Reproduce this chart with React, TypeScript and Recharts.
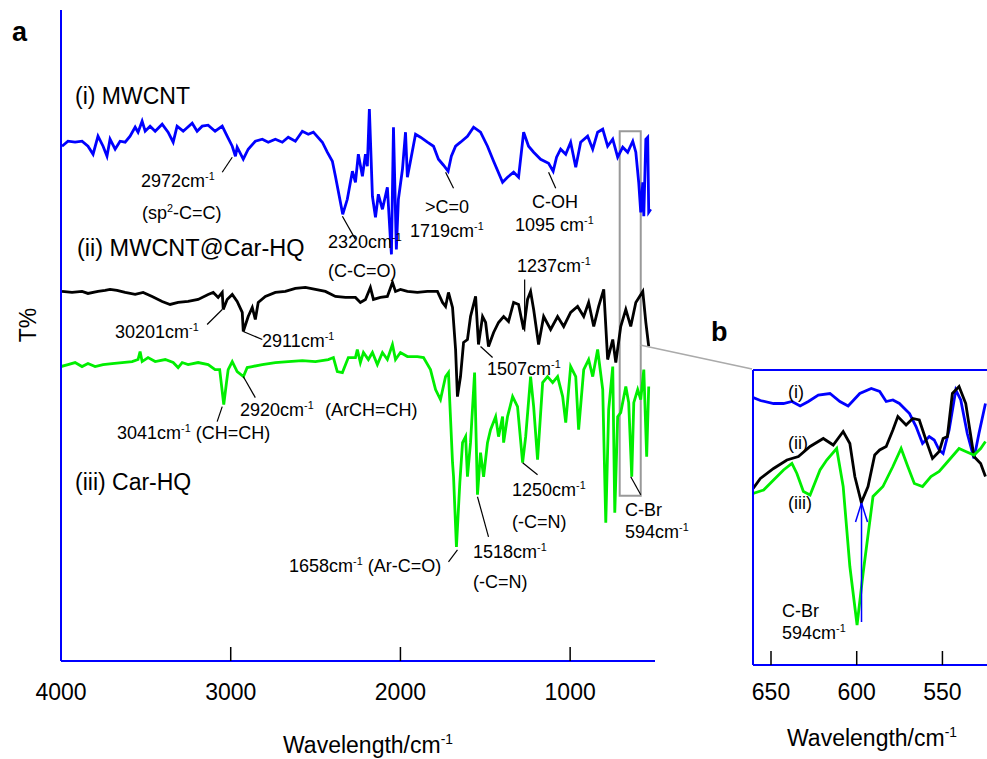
import React from "react";
import {
  LineChart,
  Line,
  XAxis,
  YAxis,
  ReferenceLine,
  ReferenceArea,
} from "recharts";

const FONT = '"Liberation Sans", Arial, Helvetica, sans-serif';

// ---- panel a: FTIR spectra (wavenumber in cm-1, offset transmittance) ----
const mwcntWave = [
  3994, 3959, 3917, 3876, 3841, 3811, 3782, 3752, 3729, 3711,
  3681, 3652, 3622, 3593, 3563, 3546, 3522, 3504, 3475, 3445,
  3404, 3369, 3339, 3316, 3280, 3227, 3198, 3168, 3133, 3092,
  3050, 3021, 2991, 2972, 2962, 2926, 2897, 2855, 2814, 2779,
  2737, 2696, 2661, 2619, 2578, 2543, 2513, 2460, 2431, 2401,
  2383, 2340, 2313, 2283, 2265, 2248, 2224, 2206, 2195, 2183,
  2165, 2147, 2130, 2106, 2077, 2059, 2053, 2041, 2024, 2012,
  1988, 1970, 1959, 1941, 1911, 1882, 1841, 1805, 1776, 1746,
  1719, 1700, 1675, 1646, 1605, 1569, 1528, 1487, 1451, 1398,
  1369, 1333, 1304, 1274, 1245, 1215, 1174, 1127, 1100, 1080,
  1056, 1026, 997, 967, 938, 897, 867, 838, 808, 779,
  749, 720, 690, 661, 631, 613, 596, 584, 572, 566,
  554, 543, 537, 525,
];
const mwcntT = [
  102.8, 103.8, 103.6, 103.8, 102.8, 101.2, 104.8, 102.8, 100.8, 104.2,
  102.2, 103.8, 103.6, 104.8, 106.6, 105.6, 107.8, 105.8, 106.8, 105.8,
  107.2, 105.6, 103.6, 106.8, 105.8, 107.4, 105.8, 106.8, 107, 105.8,
  106.8, 104.8, 102.8, 100.8, 102.6, 100.2, 102.2, 103.8, 104.2, 103.6,
  104.2, 103.6, 104.6, 103.8, 105.8, 105.2, 105.6, 103.6, 101.6, 99.8,
  96.8, 89.2, 92.2, 97.8, 95.6, 101.2, 96.8, 101.2, 98.8, 110.2,
  92.8, 88.6, 93.2, 90.2, 94.6, 84.2, 81.2, 106.6, 82.2, 92.2,
  98.2, 105.6, 96.6, 99.8, 105.2, 104.6, 103.6, 102.8, 100.2, 99,
  97.8, 100.8, 102.8, 103.6, 104.8, 106.6, 105.6, 102.8, 99.8, 95.6,
  96.6, 97.6, 96.6, 105.6, 102.8, 101.6, 100.2, 99.4, 97.8, 100.6,
  102.2, 101.2, 103.6, 98.6, 103.6, 104.8, 102.2, 105.6, 106.2, 102.8,
  104.2, 100.6, 102.6, 101.6, 103.8, 101.6, 95.6, 89.6, 95.6, 88.8,
  104.2, 104.6, 89.6, 90.2,
];

const hybridWave = [
  3994, 3935, 3876, 3841, 3782, 3740, 3711, 3670, 3622, 3563,
  3516, 3463, 3404, 3357, 3310, 3251, 3192, 3133, 3103, 3074,
  3050, 3044, 3021, 2991, 2962, 2932, 2926, 2897, 2873, 2855,
  2838, 2796, 2737, 2678, 2619, 2560, 2501, 2442, 2383, 2324,
  2265, 2236, 2206, 2177, 2159, 2118, 2077, 2047, 2029, 2000,
  1959, 1900, 1841, 1782, 1752, 1734, 1717, 1693, 1675, 1664,
  1646, 1628, 1605, 1587, 1557, 1540, 1516, 1498, 1481, 1451,
  1422, 1392, 1363, 1333, 1304, 1274, 1251, 1233, 1215, 1186,
  1156, 1115, 1074, 1038, 997, 956, 920, 891, 861, 832,
  802, 779, 749, 731, 702, 672, 643, 613, 572, 554,
  537,
];
const hybridT = [
  73.8, 73.6, 73.8, 73.4, 73.8, 74, 74.2, 74, 73.6, 73.2,
  73.6, 72.8, 71.8, 71.2, 71.6, 71.8, 72.2, 73.2, 73.6, 72.6,
  73.6, 70.2, 72.2, 73.2, 71.8, 69.6, 65.8, 68.8, 70.6, 68.2,
  71.6, 72.8, 73.6, 73.8, 74.4, 74.6, 74.2, 73.8, 72.8, 72.6,
  72.6, 71.6, 72.2, 74.6, 72.2, 72.6, 72.8, 75.6, 73.8, 74.2,
  73.8, 73.6, 73.8, 73.8, 71.6, 70.8, 73.6, 70.6, 62.2, 52.8,
  56.8, 63.6, 64.2, 68.8, 72.8, 63.2, 68.8, 67.6, 62.8, 65.6,
  67.6, 68.8, 67.8, 71.6, 71.2, 66.2, 72.2, 73.8, 70.2, 63.2,
  68.8, 66.2, 68.8, 66.8, 69.6, 70.8, 68.8, 71.6, 66.8, 70.8,
  74.2, 60.2, 64.2, 59.6, 66.8, 70.2, 66.8, 71.6, 73.8, 67.6,
  62.8,
];

const carhqWave = [
  4000, 3959, 3917, 3876, 3841, 3799, 3752, 3699, 3640, 3581,
  3546, 3534, 3522, 3487, 3445, 3386, 3339, 3310, 3286, 3251,
  3192, 3133, 3092, 3065, 3041, 3025, 3015, 2991, 2962, 2925,
  2903, 2873, 2814, 2737, 2661, 2578, 2501, 2425, 2395, 2372,
  2342, 2307, 2265, 2254, 2236, 2218, 2189, 2165, 2136, 2106,
  2077, 2047, 2029, 2000, 1959, 1900, 1864, 1823, 1793, 1764,
  1734, 1717, 1693, 1687, 1670, 1650, 1634, 1616, 1605, 1587,
  1563, 1546, 1528, 1510, 1487, 1469, 1439, 1422, 1398, 1392,
  1369, 1339, 1310, 1280, 1262, 1233, 1215, 1192, 1162, 1133,
  1103, 1074, 1044, 1026, 997, 967, 950, 920, 891, 867,
  838, 808, 790, 773, 749, 737, 720, 702, 672, 655,
  637, 625, 602, 584, 566, 549, 537,
];
const carhqT = [
  58.8, 59.2, 59.6, 58.8, 59.4, 58.8, 59.2, 59.4, 59.6, 59.8,
  60.2, 61.8, 59.8, 60.6, 59.8, 60.2, 59.6, 58.6, 59.6, 59.2,
  59.6, 59.2, 58.2, 58.2, 51.2, 55.6, 58.2, 59.8, 57.8, 56.8,
  58.6, 58.8, 59.2, 59.6, 59.8, 60, 59.8, 60.2, 60.6, 57.8,
  57.6, 60.6, 60.6, 62.2, 59.6, 61.6, 60.2, 61.6, 59.2, 61.6,
  60.2, 63.2, 60.2, 61.6, 60.8, 60.8, 60.6, 58.2, 54.2, 52.2,
  56.8, 57.6, 39.6, 36.8, 22.8, 35.6, 43.6, 44.8, 36.8, 43.6,
  57.6, 33.2, 41.6, 36.8, 43.6, 46.2, 48.8, 44.8, 48.8, 43.6,
  48.8, 52.8, 50.8, 39.6, 44.8, 56.8, 50.8, 40.2, 55.6, 56.8,
  55.6, 56.8, 52.8, 47.6, 58.8, 56.8, 46.2, 58.2, 60.2, 56.8,
  62.2, 54.2, 27.6, 50.2, 58.8, 29.6, 48.8, 49.6, 54.8, 51.6,
  36.8, 51.6, 54.2, 52.2, 58.2, 40.8, 54.8,
];

// ---- panel b: zoom of the C-Br region ----
const zoomMwcntWave = [
  660.4, 656.2, 648.5, 642.7, 637.8, 633, 628.2, 622.4, 615.6, 609.8,
  605, 598.2, 591.5, 586.6, 582.8, 578.9, 575.1, 569.2, 565.4, 561.6,
  557.7, 554.8, 551.9, 549.6, 546.1, 542.2, 539.3, 535.5, 531.6, 528.7,
  524.9,
];
const zoomMwcntT = [
  53.5, 52.9, 52.3, 52.3, 52.7, 51.8, 52.7, 54, 54.3, 52.7,
  51.8, 54.3, 55.3, 54.7, 52.7, 53, 52.3, 50.3, 47.7, 44.3,
  45.7, 45, 43, 42.3, 47, 55, 53, 46.3, 41.3, 46.3,
  52.3,
];
const zoomHybridWave = [
  660.4, 656.2, 648.5, 640.7, 634, 627.2, 619.5, 613.7, 607.9, 604,
  601.1, 597.3, 593.4, 589.5, 586.6, 582.8, 578.9, 576, 571.2, 567.3,
  563.5, 559.6, 555.8, 551.9, 549.6, 547.1, 544.2, 540.3, 536.4, 531.6,
  527.7, 524.9,
];
const zoomHybridT = [
  35.3, 37.3, 39.3, 41, 41.7, 43.7, 45.3, 44, 46.7, 44.3,
  37.7, 32.5, 35.7, 42, 43, 43.7, 47, 49.7, 48, 49.3,
  49, 45, 41.3, 42.7, 45.3, 45.7, 54.3, 55.7, 52.3, 41.7,
  40.3, 37.7,
];
const zoomCarhqWave = [
  660.4, 654.3, 648.5, 642.7, 637.8, 634.9, 631.1, 627.2, 621.4, 617.5,
  611.7, 607.9, 604, 599.8, 596.3, 590.5, 584.7, 578.9, 574.1, 570.2,
  566.4, 561.6, 556.7, 551.9, 546.1, 540.3, 536.4, 531.6, 527.7, 524.9,
];
const zoomCarhqT = [
  34.3, 35, 37, 39, 40.3, 38.3, 34.7, 34, 39, 41,
  43.3, 35.7, 19.7, 8, 18.3, 33.7, 35.7, 39.7, 43.3, 39.7,
  36.3, 35.7, 37.7, 38.7, 41, 43.3, 42.7, 42, 43.3, 44.7,
];

const ticksA = [4000, 3000, 2000, 1000];
const ticksB = [650, 600, 550];
const yTicksA = [25, 45, 65, 85, 105, 125];
const yTicksB = [12, 20, 28, 36, 44, 52];

const zip = (w: number[], t: number[]) => w.map((x, i) => ({ w: x, t: t[i] }));

// leader lines from the peak labels to the bands (data coordinates)
const leadersA: [number, number, number, number][] = [
  [3050, 97.6, 2991, 100.6],
  [2342, 88.8, 2265, 84.2],
  [1734, 97.6, 1687, 94.4],
  [1127, 97.6, 1085, 94.4],
  [1268, 76.2, 1268, 65.8],
  [3139, 67.2, 3050, 70.2],
  [2926, 65.8, 2814, 64.2],
  [1528, 62.8, 1457, 60.6],
  [3050, 50.8, 3080, 47.8],
  [2926, 56.8, 2855, 52.6],
  [1280, 39.6, 1192, 37.2],
  [1546, 32.8, 1481, 24.8],
  [1664, 22.2, 1717, 19.8],
  [643, 36.8, 584, 33.2],
];

const arrowB: [number, number, number, number][] = [
  [597.2, 8.6, 597.2, 32.4],
  [600.7, 28.6, 597.2, 32.4],
  [593.7, 28.6, 597.2, 32.4],
];

type NoteProps = {
  x: number;
  y: number;
  text: string;
  sup?: string;
  after?: string;
  size?: number;
  bold?: boolean;
};

function Note({ x, y, text, sup, after, size = 18, bold }: NoteProps) {
  return (
    <div
      style={{
        position: "absolute",
        left: x,
        top: y,
        transform: "translateY(-50%)",
        fontSize: size,
        fontWeight: bold ? 700 : 400,
        lineHeight: 1,
        whiteSpace: "nowrap",
        color: "#000",
      }}
    >
      {text}
      {sup && (
        <span style={{ fontSize: "0.6em", position: "relative", top: "-0.65em" }}>
          {sup}
        </span>
      )}
      {after}
    </div>
  );
}

const notes: NoteProps[] = [
  { x: 75, y: 96, text: "(i) MWCNT", size: 23 },
  { x: 77, y: 249, text: "(ii) MWCNT@Car-HQ", size: 23.5 },
  { x: 75, y: 482, text: "(iii) Car-HQ", size: 23 },
  { x: 141, y: 181, text: "2972cm", sup: "-1" },
  { x: 142, y: 213, text: "(sp", sup: "2", after: "-C=C)" },
  { x: 328, y: 242, text: "2320cm", sup: "-1" },
  { x: 328, y: 271, text: "(C-C=O)" },
  { x: 425, y: 207, text: ">C=0" },
  { x: 410, y: 231, text: "1719cm", sup: "-1" },
  { x: 532, y: 202, text: "C-OH" },
  { x: 515, y: 225, text: "1095 cm", sup: "-1" },
  { x: 517, y: 266, text: "1237cm", sup: "-1" },
  { x: 115, y: 332, text: "30201cm", sup: "-1" },
  { x: 262, y: 341, text: "2911cm", sup: "-1" },
  { x: 487, y: 369, text: "1507cm", sup: "-1" },
  { x: 240, y: 410, text: "2920cm", sup: "-1" },
  { x: 325, y: 410, text: "(ArCH=CH)" },
  { x: 117, y: 433, text: "3041cm", sup: "-1", after: " (CH=CH)" },
  { x: 512, y: 490, text: "1250cm", sup: "-1" },
  { x: 512, y: 522, text: "(-C=N)" },
  { x: 625, y: 510, text: "C-Br" },
  { x: 625, y: 532, text: "594cm", sup: "-1" },
  { x: 473, y: 552, text: "1518cm", sup: "-1" },
  { x: 473, y: 582, text: "(-C=N)" },
  { x: 289, y: 566, text: "1658cm", sup: "-1", after: " (Ar-C=O)" },
  { x: 283, y: 745, text: "Wavelength/cm", sup: "-1", size: 23 },
  { x: 787, y: 738, text: "Wavelength/cm", sup: "-1", size: 23 },
  { x: 788, y: 392, text: "(i)" },
  { x: 788, y: 443, text: "(ii)" },
  { x: 788, y: 503, text: "(iii)" },
  { x: 782, y: 611, text: "C-Br" },
  { x: 782, y: 633, text: "594cm", sup: "-1" },
  { x: 12, y: 32, text: "a", size: 27, bold: true },
  { x: 711, y: 332, text: "b", size: 27, bold: true },
];

const BLUE = "#0000ff";
const GREEN = "#00ee00";
const LW = 2.8;

export default function App() {
  const tickStyle = { fill: "#000", fontSize: 23, fontFamily: FONT };
  return (
    <div
      style={{
        position: "absolute",
        left: 0,
        top: 0,
        width: 987,
        height: 759,
        overflow: "hidden",
        background: "#fff",
        fontFamily: FONT,
      }}
    >
      <div style={{ position: "absolute", left: 0, top: 0 }}>
        <LineChart width={700} height={759} margin={{ top: 10, right: 45, bottom: 0, left: 0 }}>
          <XAxis
            type="number"
            dataKey="w"
            domain={[500, 4000]}
            reversed
            allowDataOverflow
            ticks={ticksA}
            interval={0}
            height={98}
            tickSize={-14}
            tickMargin={37}
            axisLine={{ stroke: BLUE, strokeWidth: 2 }}
            tickLine={{ stroke: "#000", strokeWidth: 1.5 }}
            tick={tickStyle}
          />
          <YAxis
            type="number"
            domain={[0, 130]}
            allowDataOverflow
            ticks={yTicksA}
            width={61}
            tick={false}
            tickSize={-5}
            axisLine={{ stroke: BLUE, strokeWidth: 2 }}
            tickLine={{ stroke: "#666", strokeWidth: 1 }}
          />
          <ReferenceArea
            x1={708}
            x2={584}
            y1={33}
            y2={105.8}
            fill="none"
            fillOpacity={0}
            stroke="#999"
            strokeWidth={2}
            ifOverflow="visible"
          />
          <Line data={zip(mwcntWave, mwcntT)} dataKey="t" type="linear" stroke={BLUE} strokeWidth={LW} dot={false} activeDot={false} isAnimationActive={false} />
          <Line data={zip(hybridWave, hybridT)} dataKey="t" type="linear" stroke="#000" strokeWidth={LW} dot={false} activeDot={false} isAnimationActive={false} />
          <Line data={zip(carhqWave, carhqT)} dataKey="t" type="linear" stroke={GREEN} strokeWidth={LW} dot={false} activeDot={false} isAnimationActive={false} />
          {leadersA.map(([x1, y1, x2, y2], i) => (
            <ReferenceLine
              key={i}
              segment={[{ x: x1, y: y1 }, { x: x2, y: y2 }]}
              stroke="#000"
              strokeWidth={1.2}
              ifOverflow="visible"
            />
          ))}
        </LineChart>
      </div>

      <div style={{ position: "absolute", left: 700, top: 360 }}>
        <LineChart width={287} height={399} margin={{ top: 10, right: 0, bottom: 0, left: 0 }}>
          <XAxis
            type="number"
            dataKey="w"
            domain={[524, 660.5]}
            reversed
            allowDataOverflow
            ticks={ticksB}
            interval={0}
            height={94}
            tickSize={-14}
            tickMargin={33}
            axisLine={{ stroke: BLUE, strokeWidth: 2 }}
            tickLine={{ stroke: "#000", strokeWidth: 1.5 }}
            tick={tickStyle}
          />
          <YAxis
            type="number"
            domain={[0, 59]}
            allowDataOverflow
            ticks={yTicksB}
            width={53}
            tick={false}
            tickSize={-5}
            axisLine={{ stroke: BLUE, strokeWidth: 2 }}
            tickLine={{ stroke: "#666", strokeWidth: 1 }}
          />
          <ReferenceLine y={59} stroke={BLUE} strokeWidth={2} />
          <Line data={zip(zoomMwcntWave, zoomMwcntT)} dataKey="t" type="linear" stroke={BLUE} strokeWidth={LW} dot={false} activeDot={false} isAnimationActive={false} />
          <Line data={zip(zoomHybridWave, zoomHybridT)} dataKey="t" type="linear" stroke="#000" strokeWidth={LW} dot={false} activeDot={false} isAnimationActive={false} />
          <Line data={zip(zoomCarhqWave, zoomCarhqT)} dataKey="t" type="linear" stroke={GREEN} strokeWidth={LW} dot={false} activeDot={false} isAnimationActive={false} />
          {arrowB.map(([x1, y1, x2, y2], i) => (
            <ReferenceLine
              key={i}
              segment={[{ x: x1, y: y1 }, { x: x2, y: y2 }]}
              stroke={BLUE}
              strokeWidth={1.5}
              ifOverflow="visible"
            />
          ))}
        </LineChart>
      </div>

      {/* connector from the boxed region to panel b */}
      <svg
        width={987}
        height={759}
        style={{ position: "absolute", left: 0, top: 0, pointerEvents: "none" }}
      >
        <line x1={640} y1={345} x2={752} y2={369} stroke="#aaa" strokeWidth={1.5} />
      </svg>

      <div
        style={{
          position: "absolute",
          left: 28,
          top: 325,
          transform: "translate(-50%, -50%) rotate(-90deg)",
          fontSize: 23,
          lineHeight: 1,
          whiteSpace: "nowrap",
        }}
      >
        T%
      </div>
      {notes.map((n, i) => (
        <Note key={i} {...n} />
      ))}
    </div>
  );
}
